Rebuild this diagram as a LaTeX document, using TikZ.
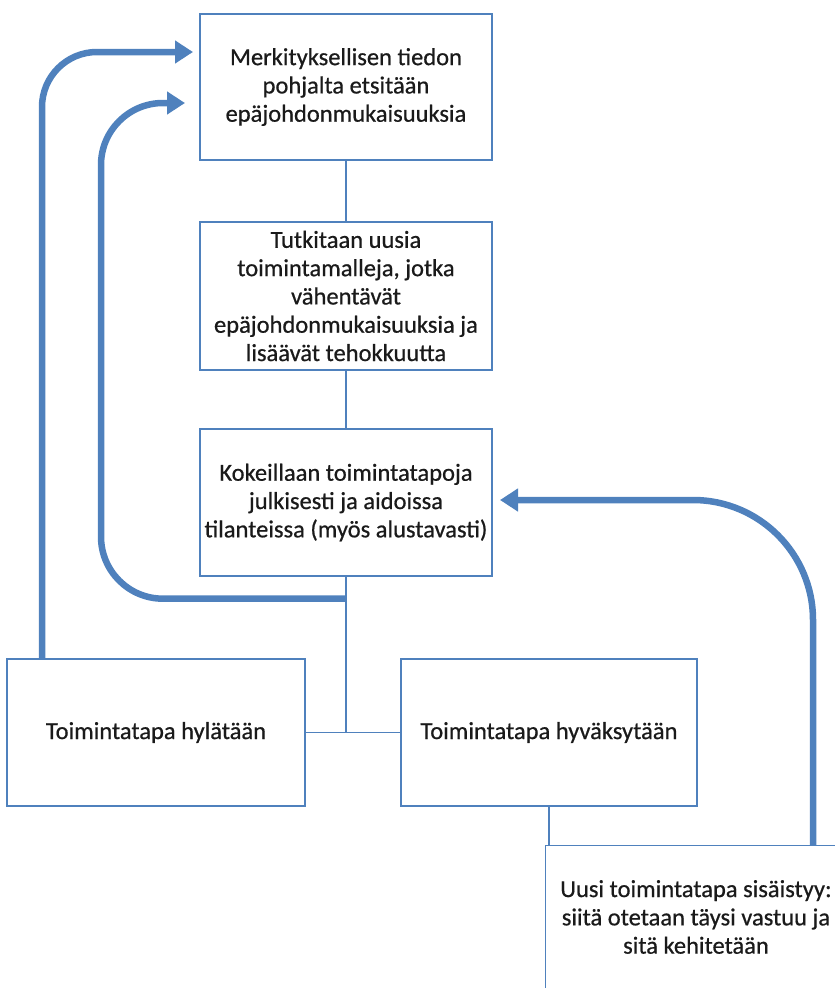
\documentclass[tikz,border=0pt]{standalone}
\usepackage{fontspec}
\setmainfont{Carlito}
\newfontfamily\boxfont{Carlito}[FakeBold=0.6]
\usetikzlibrary{arrows.meta}
\definecolor{frameblue}{HTML}{4F81BD}
\definecolor{flowblue}{HTML}{4F81BD}
\definecolor{inktext}{HTML}{1A1A1A}
\begin{document}
\begin{tikzpicture}[x=1pt,y=-1pt,
  label text/.style={align=center, text=inktext,
    font=\boxfont\fontsize{24.5}{28.3}\selectfont},
  box/.style={draw=frameblue, line width=1.4pt, fill=white, inner sep=2pt, label text},
  link/.style={draw=frameblue, line width=1.4pt},
  flow/.style={draw=flowblue, line width=6.5pt,
    -{Triangle[length=18pt,width=22pt]}}]
\useasboundingbox (0,0) rectangle (835,988);
\clip (0,0) rectangle (835,988);

% process boxes
\node[box, minimum width=292pt, minimum height=146pt] (A) at (346,87)
  {Merkityksellisen tiedon\\pohjalta etsitään\\epäjohdonmukaisuuksia};
\node[box, minimum width=292pt, minimum height=148pt] (B) at (346,296)
  {Tutkitaan uusia\\toimintamalleja, jotka\\vähentävät\\epäjohdonmukaisuuksia ja\\lisäävät tehokkuutta};
\node[box, minimum width=292pt, minimum height=147pt] (C) at (346,502.5)
  {Kokeillaan toimintatapoja\\julkisesti ja aidoissa\\tilanteissa (myös alustavasti)};
\node[box, minimum width=298pt, minimum height=147pt] (D) at (156,732.5)
  {Toimintatapa hylätään};
\node[box, minimum width=296pt, minimum height=147pt] (E) at (549,732.5)
  {Toimintatapa hyväksytään};
\node[box, anchor=north west, minimum width=360pt, minimum height=260pt] (F) at (545,845) {};
\node[label text] (Ft) at (696,917)
  {Uusi toimintatapa sisäistyy:\\siitä otetaan täysi vastuu ja\\sitä kehitetään};

% thin connectors
\coordinate (J) at (C.south |- D.east);
\coordinate (R) at ([yshift=-22pt]C.south);
\draw[link] (A.south) -- (B.north);
\draw[link] (B.south) -- (C.north);
\draw[link] (C.south) -- (J);
\draw[link] (D.east) -- (E.west);
\draw[link] (E.south) -- (E.south |- F.north);

% feedback arrows
\coordinate (Dout) at (42,659);
\coordinate (Ain1) at (193,52);
\coordinate (Ain2) at (185,103);
\coordinate (Fout) at (813,845);
\coordinate (Cin) at (500,500);
\draw[flow, rounded corners=55pt] (Dout) |- (Ain1);
\draw[flow, rounded corners=62pt] (R) -| (101,103) -- (Ain2);
\draw[flow, rounded corners=120pt] (Fout) |- (Cin);
\end{tikzpicture}
\end{document}
